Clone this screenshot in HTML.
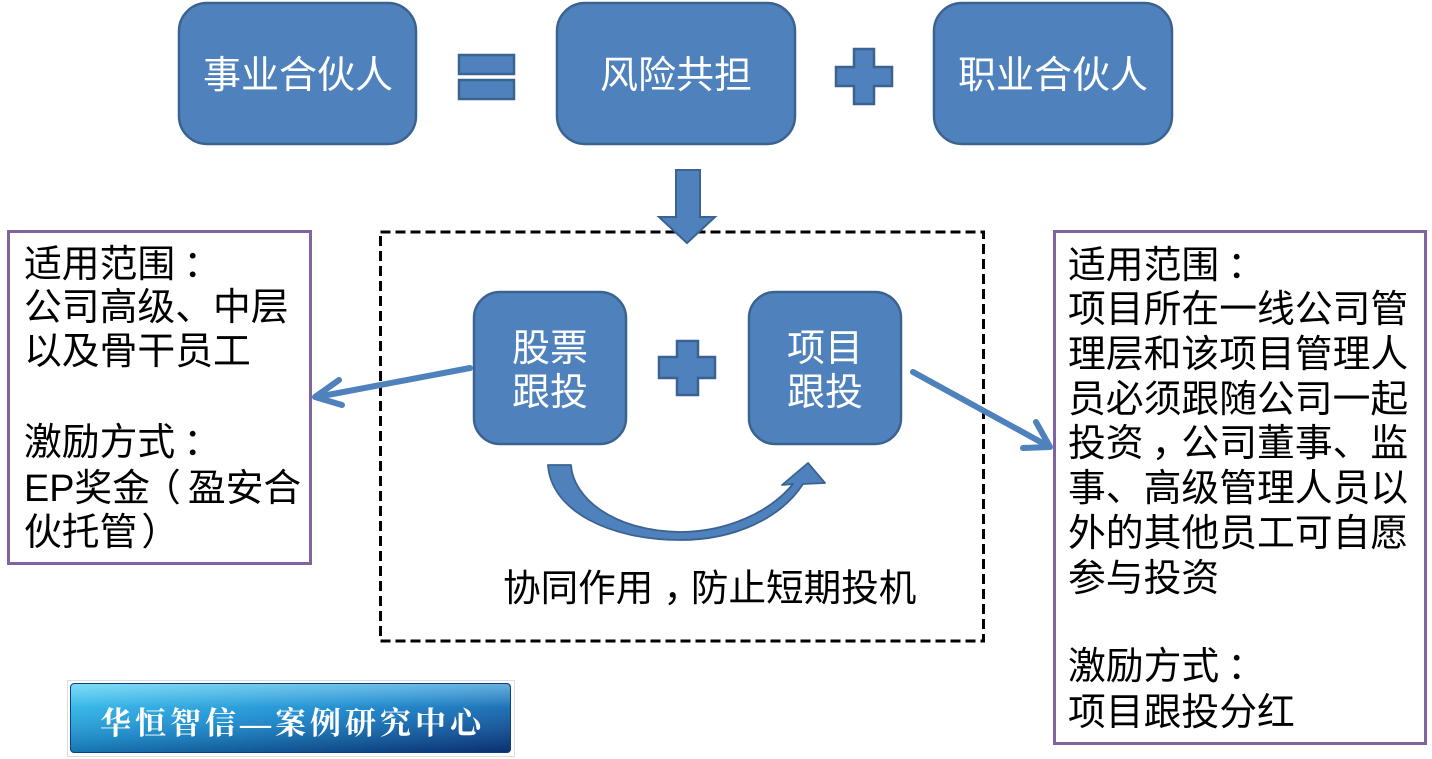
<!DOCTYPE html>
<html>
<head>
<meta charset="utf-8">
<style>
  html, body { margin:0; padding:0; background:#ffffff; }
  svg { display:block; }
  .cjk { font-family: "Liberation Sans", "Noto Sans CJK SC", sans-serif; }
</style>
</head>
<body>
<svg width="1432" height="759" viewBox="0 0 1432 759" xmlns="http://www.w3.org/2000/svg">
  <defs>
    <linearGradient id="logoG" x1="0" y1="0" x2="1" y2="1">
      <stop offset="0" stop-color="#3ccbf2"/>
      <stop offset="0.45" stop-color="#1b8fd3"/>
      <stop offset="1" stop-color="#0a3580"/>
    </linearGradient>
    <linearGradient id="logoV" x1="0" y1="0" x2="0" y2="1">
      <stop offset="0" stop-color="#ffffff" stop-opacity="0.35"/>
      <stop offset="0.35" stop-color="#ffffff" stop-opacity="0.05"/>
      <stop offset="1" stop-color="#000000" stop-opacity="0.15"/>
    </linearGradient>
  </defs>

  <!-- Top row boxes -->
  <g fill="#4f81bd" stroke="#3b6391" stroke-width="2.5">
    <rect x="179" y="3" width="237" height="141" rx="28" ry="28"/>
    <rect x="557" y="3" width="238" height="141" rx="28" ry="28"/>
    <rect x="934" y="3" width="238" height="141" rx="28" ry="28"/>
  </g>
  <g class="cjk" fill="#ffffff" font-size="38" text-anchor="middle">
    <text x="298" y="88">事业合伙人</text>
    <text x="676" y="88">风险共担</text>
    <text x="1053" y="88">职业合伙人</text>
  </g>

  <!-- Equal sign -->
  <g fill="#4f81bd" stroke="#3b6391" stroke-width="2.5">
    <rect x="459" y="55" width="55" height="19"/>
    <rect x="459" y="80" width="55" height="19"/>
  </g>
  <!-- Top plus -->
  <polygon fill="#4f81bd" stroke="#3b6391" stroke-width="2.5"
    points="854,49 874,49 874,67 892,67 892,86 874,86 874,104 854,104 854,86 836,86 836,67 854,67"/>

  <!-- Dashed box -->
  <rect x="380.5" y="232" width="603" height="409" fill="none" stroke="#000000" stroke-width="3" stroke-dasharray="10 5"/>

  <!-- Down arrow -->
  <polygon fill="#4f81bd" stroke="#3b6391" stroke-width="2"
    points="676,170 700,170 700,217 715,217 687,243 659,217 676,217"/>

  <!-- Middle boxes -->
  <g fill="#4f81bd" stroke="#3b6391" stroke-width="2.5">
    <rect x="474" y="292" width="152" height="152" rx="26" ry="26"/>
    <rect x="749" y="292" width="152" height="152" rx="26" ry="26"/>
  </g>
  <g class="cjk" fill="#ffffff" font-size="38" text-anchor="middle">
    <text x="550" y="361">股票</text>
    <text x="550" y="405">跟投</text>
    <text x="825" y="361">项目</text>
    <text x="825" y="405">跟投</text>
  </g>
  <!-- Middle plus -->
  <polygon fill="#4f81bd" stroke="#3b6391" stroke-width="2.5"
    points="677,341 698,341 698,357 715,357 715,378 698,378 698,395 677,395 677,378 659,378 659,357 677,357"/>

  <!-- Curved arrow -->
  <path fill="#4f81bd" stroke="#3b6391" stroke-width="1.8" stroke-linejoin="round"
    d="M548,465 L571,465 C573,497 612,531 680,532 C727,532 770,512 793,484 L782,485 L808,463 L825,483 L803,484 C781,518 735,540 680,540 C610,540 551,511 548,465 Z"/>

  <!-- Left arrow -->
  <g fill="none" stroke="#4f81bd" stroke-width="6" stroke-linecap="round" stroke-linejoin="round">
    <line x1="470" y1="368" x2="317" y2="397"/>
    <polyline points="339,380 315,397 342,405"/>
  </g>
  <!-- Right arrow -->
  <g fill="none" stroke="#4f81bd" stroke-width="6" stroke-linecap="round" stroke-linejoin="round">
    <line x1="913" y1="372" x2="1048" y2="446"/>
    <polyline points="1036,422 1050,447 1023,448"/>
  </g>

  <!-- Bottom caption -->
  <text class="cjk" x="503" y="601" font-size="37.6" fill="#000000">协同作用<tspan dx="10">，</tspan><tspan dx="-10">防止短期投机</tspan></text>

  <!-- Left info box -->
  <rect x="8.5" y="231.5" width="302" height="332" fill="#ffffff" stroke="#8064a2" stroke-width="3"/>
  <g class="cjk" fill="#000000" font-size="37.8">
    <text x="24" y="277">适用范围<tspan dx="8">：</tspan></text>
    <text x="24" y="320">公司高级、中层</text>
    <text x="24" y="364">以及骨干员工</text>
    <text x="24" y="455">激励方式<tspan dx="8">：</tspan></text>
    <text x="24" y="501">EP奖金<tspan dx="-7">（</tspan><tspan dx="7">盈安合</tspan></text>
    <text x="24" y="545">伙托管<tspan dx="4">）</tspan></text>
  </g>

  <!-- Right info box -->
  <rect x="1054.5" y="231.5" width="371" height="512" fill="#ffffff" stroke="#8064a2" stroke-width="3"/>
  <g class="cjk" fill="#000000" font-size="37.8">
    <text x="1068" y="278">适用范围<tspan dx="8">：</tspan></text>
    <text x="1068" y="322">项目所在一线公司管</text>
    <text x="1068" y="367">理层和该项目管理人</text>
    <text x="1068" y="412">员必须跟随公司一起</text>
    <text x="1068" y="456">投资<tspan dx="8">，</tspan><tspan dx="-8">公司董事、监</tspan></text>
    <text x="1068" y="501">事、高级管理人员以</text>
    <text x="1068" y="546">外的其他员工可自愿</text>
    <text x="1068" y="591">参与投资</text>
    <text x="1068" y="679">激励方式<tspan dx="8">：</tspan></text>
    <text x="1068" y="725">项目跟投分红</text>
  </g>

  <!-- Logo -->
  <rect x="67.5" y="680.5" width="447" height="76" fill="none" stroke="#b8b8b8" stroke-width="1" stroke-dasharray="1 1"/>
  <rect x="70" y="683" width="441" height="70" rx="4" ry="4" fill="url(#logoG)"/>
  <rect x="70" y="683" width="441" height="70" rx="4" ry="4" fill="url(#logoV)"/>
  <rect x="70.5" y="683.5" width="440" height="69" rx="4" ry="4" fill="none" stroke="#0d3f85" stroke-width="1"/>
  <text x="100" y="734" font-family="'Liberation Serif', 'Noto Serif CJK SC', serif" font-size="31" font-weight="bold" fill="#ffffff" textLength="381" lengthAdjust="spacing">华恒智信—案例研究中心</text>
</svg>
</body>
</html>
